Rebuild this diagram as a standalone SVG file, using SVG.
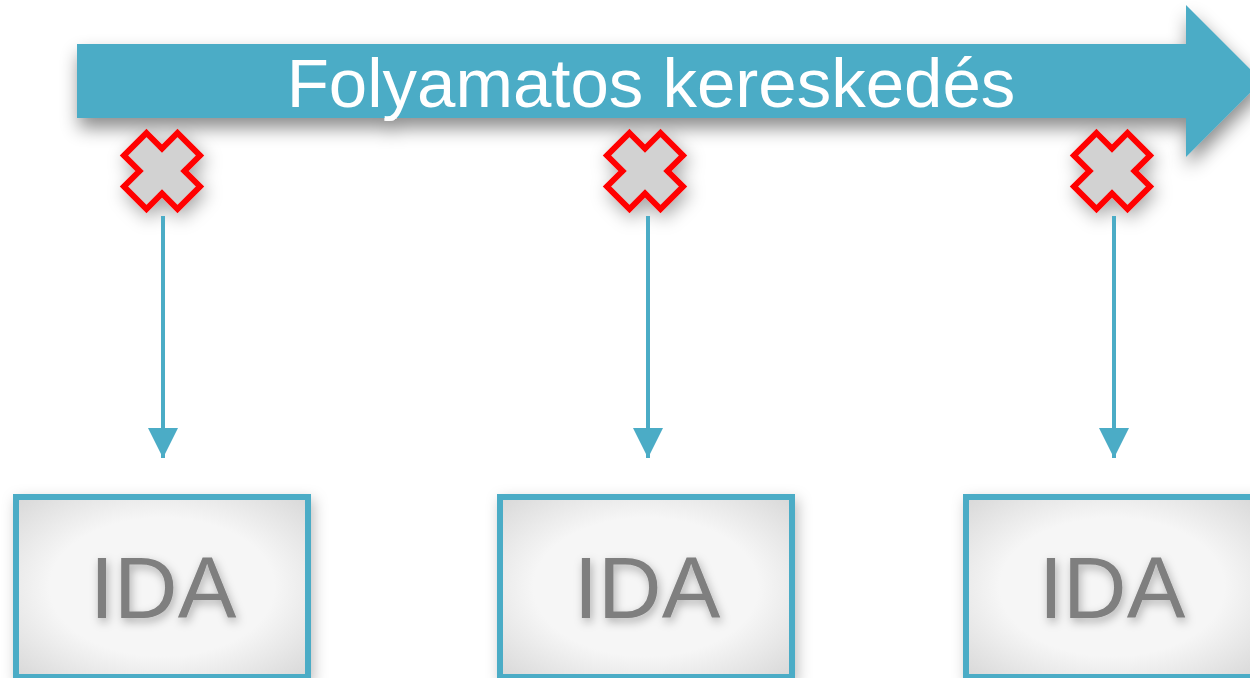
<svg xmlns="http://www.w3.org/2000/svg" width="1250" height="678" viewBox="0 0 1250 678">
<defs>
<filter id="sh" x="-20%" y="-30%" width="140%" height="190%">
<feDropShadow dx="2" dy="10" stdDeviation="9" flood-color="#000" flood-opacity="0.45"/>
</filter>
<filter id="shx" x="-60%" y="-60%" width="220%" height="220%">
<feDropShadow dx="3" dy="6" stdDeviation="9" flood-color="#000" flood-opacity="0.35"/>
</filter>
<filter id="shb" x="-20%" y="-20%" width="140%" height="140%">
<feDropShadow dx="3" dy="5" stdDeviation="7" flood-color="#000" flood-opacity="0.25"/>
</filter>
<filter id="sht" x="-30%" y="-30%" width="160%" height="160%">
<feDropShadow dx="2" dy="4" stdDeviation="5" flood-color="#000" flood-opacity="0.3"/>
</filter>
<radialGradient id="bg" cx="0.5" cy="0.5" r="0.7">
<stop offset="0.55" stop-color="#f6f6f6"/>
<stop offset="1" stop-color="#d8d8d8"/>
</radialGradient>
<marker id="ah" viewBox="0 0 10 10" refX="10" refY="5" markerWidth="7.5" markerHeight="7.5" orient="auto" markerUnits="strokeWidth">
<path d="M0,0 L10,5 L0,10 z" fill="#4BACC6"/>
</marker>
<path id="xm" d="M-15.5,-38 L0,-22.5 L15.5,-38 L38,-15.5 L22.5,0 L38,15.5 L15.5,38 L0,22.5 L-15.5,38 L-38,15.5 L-22.5,0 L-38,-15.5 Z"/>
</defs>
<style>
.box{fill:url(#bg);stroke:#4BACC6;stroke-width:6}
.ida{font-family:"Liberation Sans",Arial,sans-serif;font-size:88px;fill:#7f7f7f;text-anchor:middle}
.xm{fill:#d2d2d2;stroke:#ff0000;stroke-width:6;stroke-linejoin:miter}
.conn{stroke:#4BACC6;stroke-width:4;fill:none}
</style>
<rect width="1250" height="678" fill="#ffffff"/>
<g id="timeline" filter="url(#sh)">
<path d="M77,44 L1186,44 L1186,5 L1262,81 L1186,157 L1186,118 L77,118 Z" fill="#4BACC6"/>
<text x="651" y="107" font-family="Liberation Sans,Arial,sans-serif" font-size="69" fill="#ffffff" text-anchor="middle">Folyamatos kereskedés</text>
</g>
<g id="x1" filter="url(#shx)"><use href="#xm" class="xm" transform="translate(162,171)"/></g>
<g id="x2" filter="url(#shx)"><use href="#xm" class="xm" transform="translate(645,171)"/></g>
<g id="x3" filter="url(#shx)"><use href="#xm" class="xm" transform="translate(1112,171)"/></g>
<g id="connectors">
<line class="conn" x1="163" y1="216" x2="163" y2="458" marker-end="url(#ah)"/>
<line class="conn" x1="648" y1="216" x2="648" y2="458" marker-end="url(#ah)"/>
<line class="conn" x1="1114" y1="216" x2="1114" y2="458" marker-end="url(#ah)"/>
</g>
<g id="ida1"><rect class="box" x="16" y="497" width="292" height="180" filter="url(#shb)"/><text class="ida" x="163" y="618" filter="url(#sht)">IDA</text></g>
<g id="ida2"><rect class="box" x="500" y="497" width="292" height="180" filter="url(#shb)"/><text class="ida" x="647" y="618" filter="url(#sht)">IDA</text></g>
<g id="ida3"><rect class="box" x="966" y="497" width="292" height="180" filter="url(#shb)"/><text class="ida" x="1112" y="618" filter="url(#sht)">IDA</text></g>
</svg>
